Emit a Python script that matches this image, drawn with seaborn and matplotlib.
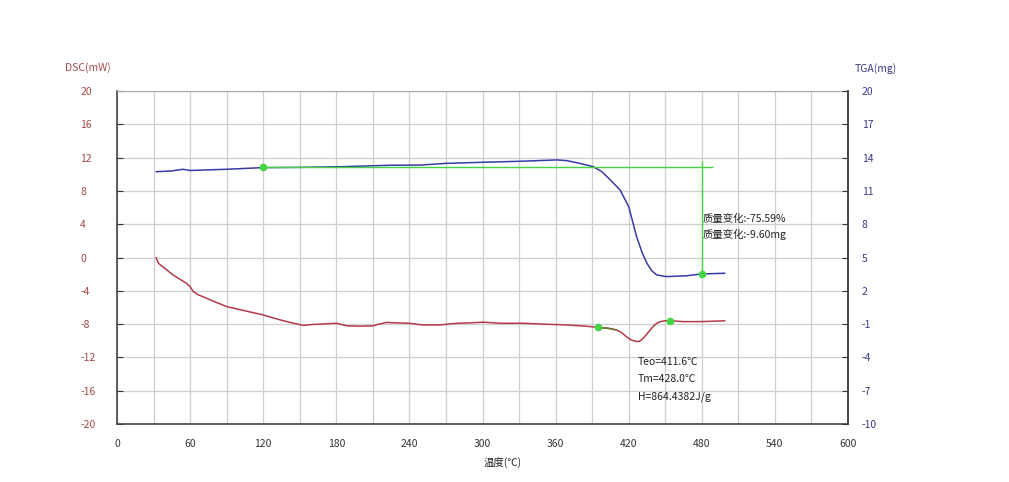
import numpy as np
import pandas as pd
import matplotlib
matplotlib.use('Agg')
import matplotlib.pyplot as plt
import seaborn as sns

# DSC curve (mW) vs temperature
dsc_temp = [32, 34, 40, 46, 52, 57, 60, 62.6, 67, 73.6, 80, 90, 105, 120, 134, 145,
            153, 160, 166.6, 180, 188.5, 200, 210, 215, 221, 230, 240, 251, 265, 279,
            290, 300.7, 315, 333.5, 350, 369, 385, 395, 403, 410, 414, 418, 422, 426.5,
            429, 432, 436, 440, 443, 446, 450, 454, 465, 478.6, 490, 499]
dsc_val = [0.0, -0.7, -1.4, -2.1, -2.65, -3.1, -3.5, -4.1, -4.5, -4.9, -5.3, -5.9, -6.4,
           -6.9, -7.5, -7.9, -8.15, -8.05, -8.0, -7.9, -8.2, -8.25, -8.2, -8.0, -7.8,
           -7.85, -7.9, -8.1, -8.1, -7.9, -7.85, -7.77, -7.9, -7.9, -8.0, -8.1, -8.25,
           -8.4, -8.5, -8.7, -9.0, -9.5, -9.9, -10.1, -10.05, -9.7, -9.0, -8.3, -7.9,
           -7.7, -7.6, -7.6, -7.7, -7.7, -7.65, -7.6]

# TGA curve (mg) vs temperature
tga_temp = [32, 45, 54, 60, 90, 120, 150, 183, 224, 249, 270, 300, 331, 361, 369, 380,
            391, 398, 405, 413, 420, 426.5, 431, 435, 439, 443, 451, 467, 480, 499]
tga_val = [12.73, 12.80, 12.95, 12.84, 12.95, 13.10, 13.12, 13.18, 13.31, 13.33, 13.48,
           13.58, 13.67, 13.79, 13.73, 13.48, 13.18, 12.73, 11.98, 11.08, 9.58, 6.88,
           5.45, 4.48, 3.80, 3.43, 3.28, 3.35, 3.52, 3.58]

# analysis markers
tga_start = (120, 13.12)
tga_end = (480, 3.52)
dsc_onset = (395, -8.4)
dsc_end = (454, -7.6)

dsc_ticks = np.arange(-20, 21, 4)
tga_ticks = np.arange(-10, 21, 3)
x_ticks = np.arange(0, 601, 60)

sns.set_style('white')
plt.rcParams['font.family'] = ['Noto Sans CJK SC', 'DejaVu Sans']
plt.rcParams['axes.unicode_minus'] = False

red = '#b33a48'
blue = '#3a3aa6'
green = '#44d444'
grid_c = '#cfcfcf'
txt_red = '#a44848'
txt_blue = '#3a3a88'

fig = plt.figure(figsize=(10.09, 4.82), dpi=100)
ax = fig.add_axes([0.116, 0.1203, 0.7244, 0.6909])
ax2 = ax.twinx()

dsc_df = pd.DataFrame({'T': dsc_temp, 'DSC': dsc_val})
tga_df = pd.DataFrame({'T': tga_temp, 'TGA': tga_val})

# grid
ax.set_xticks(np.arange(0, 601, 30), minor=True)
ax.grid(True, which='both', axis='x', color=grid_c, lw=0.9)
ax.grid(True, which='major', axis='y', color=grid_c, lw=0.9)
ax.set_axisbelow(True)

sns.lineplot(data=dsc_df, x='T', y='DSC', ax=ax, color=red, lw=1.1)
seg = dsc_df[(dsc_df['T'] >= 395) & (dsc_df['T'] <= 412)]
sns.lineplot(data=seg, x='T', y='DSC', ax=ax, color='#6a7a30', lw=1.1)
ax.plot(*dsc_onset, 'o', color=green, ms=4.5, zorder=5)
ax.plot(*dsc_end, 'o', color=green, ms=4.5, zorder=5)

sns.lineplot(data=tga_df, x='T', y='TGA', ax=ax2, color=blue, lw=1.1)
ax2.hlines(tga_start[1], tga_start[0], 489, color=green, lw=1.0)
ax2.vlines(tga_end[0], tga_end[1], 13.65, color=green, lw=1.0)
ax2.plot(*tga_start, 'o', color=green, ms=4.5, zorder=5)
ax2.plot(*tga_end, 'o', color=green, ms=4.5, zorder=5)

ax.set_xlim(0, 600)
ax.set_ylim(-20, 20)
ax2.set_ylim(-10, 20)
ax.set_xticks(x_ticks)
ax.set_yticks(dsc_ticks)
ax2.set_yticks(tga_ticks)
ax.set_xlabel('')
ax.set_ylabel('')
ax2.set_ylabel('')

ax.tick_params(axis='x', which='major', direction='in', length=4, pad=11,
               labelsize=7.5, colors='#333333', labelcolor='#333333')
ax.tick_params(axis='x', which='minor', length=0)
ax.tick_params(axis='y', direction='in', length=4, pad=26.6, labelsize=7.5,
               colors='#333333', labelcolor=txt_red)
for lab in ax.get_yticklabels():
    lab.set_horizontalalignment('left')
ax2.tick_params(axis='y', direction='in', length=4, pad=10, labelsize=7.5,
                colors='#333333', labelcolor=txt_blue)

for name in ['left', 'bottom', 'right']:
    ax.spines[name].set_color('#444444')
    ax.spines[name].set_linewidth(1.2)
ax.spines['top'].set_color('#a8a8a8')
ax2.spines['right'].set_color('#444444')
ax2.spines['right'].set_linewidth(1.2)
for name in ['left', 'bottom', 'top']:
    ax2.spines[name].set_visible(False)

# annotations
ax.text(427.6, -12.5, 'Teo=411.6℃', fontsize=7.5, color='#222222', va='center')
ax.text(427.6, -14.6, 'Tm=428.0℃', fontsize=7.5, color='#222222', va='center')
ax.text(427.6, -16.7, 'H=864.4382J/g', fontsize=7.5, color='#222222', va='center')
ax.text(480.5, 4.67, '质量变化:-75.59%', fontsize=7.5, color='#222222', va='center')
ax.text(480.5, 2.83, '质量变化:-9.60mg', fontsize=7.5, color='#222222', va='center')

fig.text(65 / 1009, 1 - 68 / 482, 'DSC(mW)', fontsize=7.5, color=txt_red, va='center')
fig.text(855 / 1009, 1 - 69 / 482, 'TGA(mg)', fontsize=7.5, color=txt_blue, va='center')
fig.text(503 / 1009, 1 - 463 / 482, '温度(℃)', fontsize=7.5, color='#222222',
         va='center', ha='center')

fig.savefig('out.png', dpi=100)
